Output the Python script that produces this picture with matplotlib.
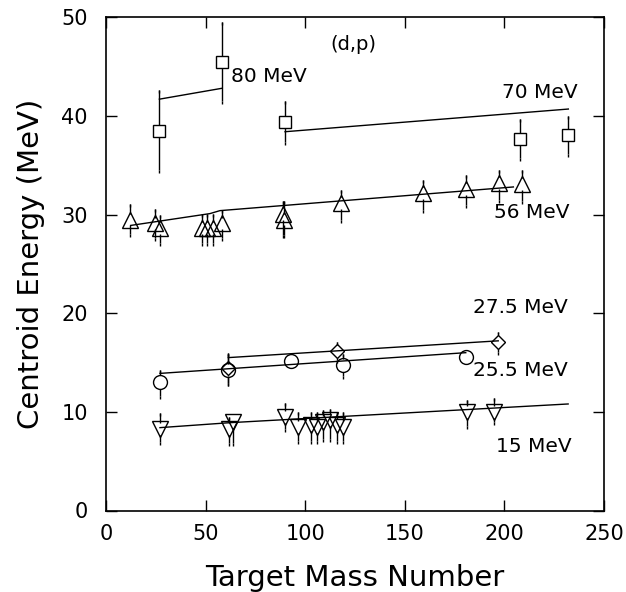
import numpy as np
import matplotlib
matplotlib.use("Agg")
from matplotlib import pyplot as plt

# 80 MeV (squares)
a80 = [26.8, 58.1]
e80 = [38.5, 45.5]
hi80 = [42.6, 49.5]
lo80 = [34.5, 41.5]
fit80_a = [26.8, 58.1]
fit80_e = [41.7, 42.8]

# 70 MeV (squares)
a70 = [89.9, 207.8, 231.8]
e70 = [39.4, 37.7, 38.1]
hi70 = [41.5, 39.7, 40.0]
lo70 = [37.4, 35.7, 36.1]
fit70_a = [89.9, 232.1]
fit70_e = [38.4, 40.7]

# 56 MeV (up triangles)
a56 = [12.0, 24.6, 27.1, 48.0, 50.9, 53.9, 58.4, 89.0, 89.5, 117.8, 159.0, 180.6, 197.1, 209.0]
e56 = [29.5, 29.1, 28.6, 28.6, 28.6, 28.6, 29.1, 30.1, 29.5, 31.2, 32.2, 32.6, 33.2, 33.1]
hi56 = [31.1, 30.6, 30.0, 30.1, 30.1, 30.1, 30.5, 31.4, 31.4, 32.5, 33.5, 34.0, 34.5, 34.5]
lo56 = [28.0, 27.6, 27.1, 27.1, 27.1, 27.1, 27.6, 27.9, 27.9, 29.5, 30.5, 31.0, 31.5, 31.4]
fit56_a = [12.4, 52.2, 57.2, 204.5]
fit56_e = [28.9, 30.1, 30.4, 32.8]

# 27.5 MeV (diamonds)
a275 = [61.1, 116.1, 196.9]
e275 = [14.4, 16.2, 17.1]
hi275 = [16.0, 17.1, 18.1]
lo275 = [12.9, 15.3, 16.1]
fit275_a = [61.4, 196.9]
fit275_e = [15.5, 17.2]

# 25.5 MeV (circles)
a255 = [27.1, 61.4, 92.9, 118.8, 180.6]
e255 = [13.0, 14.2, 15.2, 14.7, 15.6]
hi255 = [14.2, 15.9, 15.2, 15.9, 15.6]
lo255 = [11.6, 12.9, 15.2, 13.6, 15.6]
fit255_a = [27.1, 180.6]
fit255_e = [13.9, 16.0]

# 15 MeV (down triangles)
a15 = [27.1, 61.9, 63.9, 89.9, 96.5, 102.8, 105.8, 109.1, 112.4, 115.8, 119.1, 181.1, 194.8]
e15 = [8.3, 8.3, 9.0, 9.5, 8.5, 8.7, 8.5, 9.0, 9.2, 8.7, 8.5, 10.0, 10.0]
hi15 = [9.9, 9.5, 9.5, 10.9, 10.0, 10.0, 10.0, 10.2, 10.3, 10.0, 10.0, 11.2, 11.4]
lo15 = [6.9, 6.8, 6.8, 8.3, 7.0, 7.0, 7.0, 7.2, 7.2, 7.0, 7.0, 8.6, 9.0]
fit15_a = [27.1, 62.0, 232.0]
fit15_e = [8.4, 8.9, 10.8]

labels = ["80 MeV", "70 MeV", "56 MeV", "27.5 MeV", "25.5 MeV", "15 MeV"]
label_pos = [(62.6, 44.0), (199.0, 42.4), (195.0, 30.2), (184.0, 20.6), (184.0, 14.2), (196.0, 6.5)]

fig = plt.figure(figsize=(6.26, 5.92), dpi=100)
ax = fig.add_axes([106/626, 1 - 510.5/592, 498/626, (510.5 - 17.3)/592])

lw = 1.0


def series(a, e, hi, lo, marker, ms, gap):
    a = np.array(a); e = np.array(e); hi = np.array(hi); lo = np.array(lo)
    up = hi > e + gap
    dn = lo < e - gap
    ax.vlines(a[up], e[up] + gap, hi[up], color='k', lw=lw)
    ax.vlines(a[dn], lo[dn], e[dn] - gap, color='k', lw=lw)
    ax.plot(a[up], hi[up], ls='none', marker=3, ms=2.5, mew=lw, color='k')
    ax.plot(a[dn], lo[dn], ls='none', marker=3, ms=2.5, mew=lw, color='k')
    ax.plot(a, e, ls='none', marker=marker, ms=ms, mfc='none', mec='k', mew=lw)


series(a80, e80, hi80, lo80, 's', 8.5, 0.6)
series(a70, e70, hi70, lo70, 's', 8.5, 0.6)
series(a56, e56, hi56, lo56, '^', 11, 0.6)
series(a275, e275, hi275, lo275, 'D', 7.5, 0.75)
series(a255, e255, hi255, lo255, 'o', 10, 0.7)
series(a15, e15, hi15, lo15, 'v', 11, 0.6)

for fa, fe in [(fit80_a, fit80_e), (fit70_a, fit70_e), (fit56_a, fit56_e),
               (fit275_a, fit275_e), (fit255_a, fit255_e), (fit15_a, fit15_e)]:
    ax.plot(fa, fe, color='k', lw=lw)

for txt, (x, y) in zip(labels, label_pos):
    ax.text(x, y, txt, fontsize=14.5, va='center', ha='left')
ax.text(124, 47.2, "(d,p)", fontsize=14, va='center', ha='center')

ax.set_xlim(0, 250)
ax.set_ylim(0, 50)
ax.set_xticks([0, 50, 100, 150, 200, 250])
ax.set_yticks([0, 10, 20, 30, 40, 50])
ax.tick_params(direction='in', length=8, width=1, top=True, right=True, labelsize=15, pad=10)
ax.tick_params(axis='y', pad=13)
for s in ax.spines.values():
    s.set_linewidth(1.2)
ax.set_xlabel("Target Mass Number", fontsize=21, labelpad=14)
ax.set_ylabel("Centroid Energy (MeV)", fontsize=21, labelpad=12)

plt.savefig("out.png", dpi=100)
